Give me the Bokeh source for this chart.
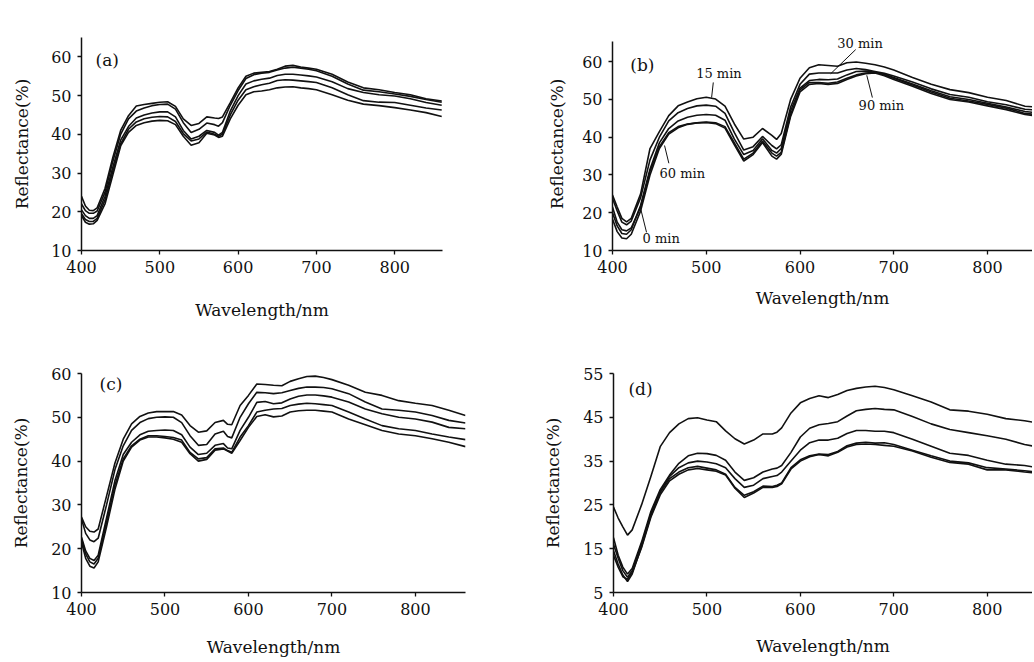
from bokeh.plotting import figure
from bokeh.layouts import column, row
from bokeh.models import Range1d, Label, FixedTicker
from bokeh.embed import file_html
from bokeh.resources import INLINE

# ---------------- data ----------------
WL = [400, 405, 410, 415, 420, 430, 440, 450, 460, 470, 480, 490, 500, 510, 520, 530,
      540, 550, 560, 570, 575, 580, 590, 600, 610, 620, 630, 640, 650, 660, 670, 680,
      690, 700, 720, 740, 760, 780, 800, 820, 840, 860]

A1 = [24.0, 21.5, 20.4, 20.3, 21.0, 26.0, 34.0, 41.0, 44.8, 47.3, 47.7, 48.0, 48.3, 48.4, 47.2, 44.0,
      42.3, 42.8, 44.5, 44.2, 44.1, 44.5, 48.2, 52.0, 55.0, 55.8, 56.0, 56.2, 56.8, 57.6, 57.8, 57.4,
      57.1, 56.8, 55.5, 53.5, 52.0, 51.5, 50.8, 50.2, 49.2, 48.6]
A2 = [22.0, 20.3, 19.6, 19.6, 20.2, 25.0, 33.0, 40.0, 44.0, 46.0, 46.8, 47.4, 47.7, 47.8, 46.5, 43.0,
      40.5, 41.3, 42.9, 42.5, 42.1, 43.0, 47.5, 51.3, 54.4, 55.4, 55.8, 56.0, 56.6, 57.1, 57.3, 57.1,
      56.8, 56.4, 55.0, 53.0, 51.4, 51.0, 50.4, 49.8, 49.0, 48.3]
A3 = [20.5, 19.0, 18.3, 18.3, 19.0, 24.0, 31.5, 38.5, 42.0, 44.2, 45.0, 45.5, 45.8, 45.8, 44.5, 41.0,
      38.8, 39.5, 41.0, 40.5, 39.8, 40.5, 46.0, 50.0, 53.0, 53.8, 54.2, 54.5, 55.2, 55.5, 55.5, 55.3,
      55.1, 54.8, 53.6, 51.8, 50.8, 50.2, 49.9, 49.2, 48.2, 47.5]
A4 = [19.5, 18.0, 17.5, 17.5, 18.3, 23.0, 30.5, 37.5, 41.3, 43.2, 44.0, 44.4, 44.6, 44.5, 43.3, 40.2,
      38.3, 38.8, 40.6, 40.0, 39.5, 40.0, 45.0, 48.8, 51.5, 52.3, 52.8, 53.2, 53.9, 54.1, 54.0, 53.8,
      53.6, 53.4, 52.0, 50.2, 48.7, 48.3, 48.2, 47.5, 46.8, 46.3]
A5 = [19.0, 17.3, 16.8, 16.9, 17.8, 22.0, 29.5, 37.0, 40.5, 42.3, 43.0, 43.4, 43.6, 43.5, 42.5, 39.5,
      37.2, 37.8, 40.3, 39.8, 39.2, 39.5, 44.0, 47.5, 50.2, 51.0, 51.2, 51.5, 52.0, 52.2, 52.3, 52.0,
      51.8, 51.5, 50.2, 48.8, 47.8, 47.4, 46.9, 46.3, 45.6, 44.6]

B1 = [24.7, 21.5, 18.5, 17.6, 18.5, 25.0, 37.0, 41.5, 45.7, 48.3, 49.3, 50.2, 50.6, 50.1, 48.2, 43.5,
      39.5, 40.0, 42.3, 40.5, 39.4, 41.0, 50.0, 55.6, 58.4, 59.2, 59.0, 58.8, 59.7, 59.9, 59.6, 59.2,
      58.6, 57.8, 55.8, 54.0, 52.6, 51.8, 50.6, 49.7, 48.2, 47.8]
B2 = [23.8, 20.5, 17.5, 16.8, 17.8, 24.0, 34.0, 40.0, 44.3, 46.5, 47.6, 48.3, 48.5, 48.2, 46.3, 41.2,
      36.6, 37.5, 40.2, 37.8, 36.9, 38.0, 48.0, 54.0, 56.7, 57.0, 57.0, 57.0, 57.8, 58.2, 57.9, 57.4,
      56.9, 56.2, 54.6, 52.8, 51.3, 50.6, 49.4, 48.6, 47.4, 47.0]
B3 = [20.0, 16.5, 14.5, 14.3, 15.5, 22.0, 31.5, 38.5, 42.3, 44.3, 45.3, 45.8, 46.0, 45.8, 44.5, 39.5,
      35.4, 36.5, 39.6, 36.5, 35.8, 37.0, 47.0, 53.0, 55.0, 55.3, 55.2, 55.4, 56.5, 57.4, 57.5, 57.2,
      56.6, 55.8, 54.1, 52.3, 50.7, 50.0, 49.0, 48.0, 46.8, 46.3]
B4 = [18.3, 15.0, 13.3, 13.1, 14.3, 20.5, 30.0, 37.0, 40.8, 42.5, 43.4, 43.8, 44.0, 43.8, 42.8, 38.5,
      34.2, 35.8, 39.0, 35.8, 35.0, 36.0, 46.0, 52.5, 54.5, 54.5, 54.3, 54.6, 55.6, 56.5, 57.0, 57.2,
      56.6, 55.6, 53.8, 52.0, 50.3, 49.6, 48.7, 47.7, 46.3, 45.8]
B5 = [21.5, 17.5, 15.5, 15.2, 16.0, 21.5, 31.0, 37.5, 41.2, 42.8, 43.5, 43.8, 43.9, 43.6, 42.4, 38.0,
      33.7, 35.4, 38.6, 35.0, 34.2, 35.5, 45.5, 52.0, 54.0, 54.2, 54.0, 54.2, 55.3, 56.2, 56.8, 57.0,
      56.3, 55.3, 53.5, 51.6, 50.0, 49.3, 48.3, 47.3, 46.0, 45.4]

C1 = [27.2, 25.0, 24.0, 23.8, 24.5, 32.0, 39.5, 45.0, 48.5, 50.2, 51.0, 51.3, 51.3, 51.3, 50.5, 48.1,
      46.6, 46.9, 48.8, 49.3, 48.4, 48.3, 52.7, 55.0, 57.6, 57.5, 57.3, 57.2, 58.2, 58.8, 59.3, 59.4,
      59.1, 58.6, 57.3, 55.7, 55.0, 53.8, 53.2, 52.7, 51.6, 50.4]
C2 = [26.8, 23.5, 22.0, 21.6, 22.4, 30.0, 38.0, 43.5, 47.0, 48.8, 49.7, 50.0, 50.1, 50.0, 48.8, 45.8,
      43.6, 43.8, 46.2, 46.8, 45.6, 45.3, 50.0, 53.1, 55.7, 55.6, 55.4, 55.6, 56.1, 56.6, 56.9, 56.9,
      56.8, 56.5, 55.4, 53.5, 51.9, 51.6, 51.2, 50.4, 49.3, 48.7]
C3 = [22.6, 19.5, 17.8, 17.3, 18.5, 27.0, 35.5, 41.5, 44.3, 46.0, 46.8, 47.0, 47.1, 47.0, 46.0, 43.2,
      41.5, 41.8, 43.6, 44.0, 43.0, 42.8, 47.0, 50.0, 53.4, 53.6, 53.1, 53.3, 54.2, 54.8, 55.1, 55.1,
      54.9, 54.6, 53.5, 51.9, 50.8, 50.0, 49.6, 48.9, 47.7, 47.4]
C4 = [22.3, 18.8, 17.0, 16.5, 17.8, 26.0, 34.5, 40.5, 43.5, 45.0, 45.8, 45.8, 45.6, 45.4, 44.8, 42.0,
      40.5, 40.8, 42.8, 43.0, 42.4, 42.0, 45.5, 48.1, 51.2, 51.6, 51.9, 52.0, 52.7, 53.0, 53.2, 53.1,
      52.9, 52.7, 51.2, 49.6, 48.1, 47.4, 47.0, 46.2, 45.5, 44.9]
C5 = [21.5, 17.8, 16.0, 15.6, 17.0, 25.0, 33.5, 40.0, 43.2, 44.8, 45.5, 45.5, 45.3, 45.0, 44.3, 41.7,
      40.0, 40.4, 42.5, 42.8, 42.3, 41.8, 44.7, 47.7, 50.2, 50.6, 50.1, 50.3, 51.2, 51.5, 51.6, 51.6,
      51.4, 51.2, 49.6, 48.3, 47.0, 46.2, 45.8, 45.1, 44.3, 43.3]

D1 = [24.5, 22.0, 20.0, 18.1, 19.3, 25.0, 31.5, 38.3, 41.5, 43.5, 44.7, 44.9, 44.4, 44.0, 41.9, 40.1,
      38.9, 39.8, 41.2, 41.2, 41.6, 42.6, 46.0, 48.3, 49.3, 49.9, 49.5, 50.2, 51.1, 51.6, 51.9, 52.1,
      51.8, 51.3, 49.9, 48.5, 46.7, 46.4, 45.7, 44.7, 44.2, 43.5]
D2 = [17.5, 13.5, 10.8, 9.2, 10.5, 16.5, 23.5, 28.5, 31.8, 34.5, 36.2, 36.8, 36.7, 36.3, 35.2, 32.5,
      30.6, 31.2, 32.5, 33.2, 33.4, 34.0, 37.0, 40.5, 42.5, 43.3, 43.6, 44.0, 45.3, 46.5, 46.8, 47.0,
      46.8, 46.7, 45.2, 43.5, 42.2, 41.5, 40.8, 40.0, 38.8, 38.0]
D3 = [16.0, 12.8, 10.0, 8.5, 10.0, 16.0, 23.0, 28.0, 31.5, 33.5, 34.6, 35.0, 34.8, 34.4, 33.5, 31.0,
      29.0, 29.5, 31.0, 31.5, 31.7, 32.5, 35.0, 37.5, 39.2, 39.8, 39.8, 40.2, 41.3, 42.0, 42.0, 41.8,
      41.8, 41.5, 40.0, 38.4, 36.8, 36.3, 35.2, 34.3, 34.0, 33.3]
D4 = [14.5, 11.5, 9.0, 7.5, 9.2, 15.5, 22.5, 27.8, 31.0, 32.5, 33.5, 33.8, 33.4, 33.0, 32.0, 29.0,
      27.2, 28.0, 29.3, 29.2, 29.5, 30.0, 33.5, 35.3, 36.2, 36.6, 36.5, 37.2, 38.5, 39.1, 39.3, 39.1,
      39.2, 38.8, 37.5, 36.2, 35.0, 34.6, 33.5, 33.2, 32.8, 32.3]
D5 = [13.5, 10.8, 8.6, 8.0, 9.6, 15.2, 22.2, 27.3, 30.5, 32.0, 33.0, 33.3, 33.0, 32.7, 31.8, 28.8,
      26.7, 27.7, 29.0, 29.0, 29.2, 29.8, 33.2, 35.0, 36.0, 36.5, 36.2, 37.0, 38.2, 38.8, 38.9, 38.8,
      38.6, 38.4, 37.3, 35.9, 34.7, 34.3, 33.0, 33.0, 32.5, 32.2]

X_TICKS = [400, 500, 600, 700, 800]
Y_TICKS_ABC = [10, 20, 30, 40, 50, 60]
Y_TICKS_D = [5, 15, 25, 35, 45, 55]

PANEL_TAGS = ["(a)", "(b)", "(c)", "(d)"]
# annotations of panel (b): text, text position, leader line start/end
B_NOTES = ["15 min", "30 min", "90 min", "60 min", "0 min"]
B_NOTE_POS = [(513.5, 56.8), (664.0, 64.9), (686.8, 48.3), (474.4, 30.5), (452.0, 13.2)]
B_LEADERS = [((507.5, 54.5), (505.7, 50.5)),
             ((659.4, 63.2), (632.7, 56.8)),
             ((677.2, 50.5), (671.2, 56.4)),
             ((460.1, 33.1), (455.5, 37.8)),
             ((436.3, 14.8), (429.9, 21.2))]

SERIF = "DejaVu Serif"
INK = "#111111"


def panel(width, height, xr, yr, ybounds, yticks, mbl, mbr, mbt, mbb,
          x_label_standoff, y_label_standoff, curves, tag, tag_pos):
    p = figure(width=width, height=height, output_backend="svg", toolbar_location=None,
               x_range=Range1d(*xr), y_range=Range1d(*yr),
               min_border_left=mbl, min_border_right=mbr,
               min_border_top=mbt, min_border_bottom=mbb)
    p.outline_line_color = None
    p.background_fill_color = "white"
    p.border_fill_color = "white"
    p.grid.visible = False
    for ax in (p.xaxis[0], p.yaxis[0]):
        ax.axis_line_color = INK
        ax.axis_line_width = 1.5
        ax.major_tick_line_color = INK
        ax.major_tick_line_width = 1.3
        ax.major_tick_in = 0
        ax.major_tick_out = 4
        ax.minor_tick_line_color = None
        ax.major_label_text_font = SERIF
        ax.major_label_text_font_size = "16px"
        ax.major_label_text_color = INK
        ax.major_label_standoff = 6
        ax.axis_label_text_font = SERIF
        ax.axis_label_text_font_size = "17px"
        ax.axis_label_text_font_style = "normal"
        ax.axis_label_text_color = INK
    p.xaxis.ticker = FixedTicker(ticks=X_TICKS)
    p.yaxis.ticker = FixedTicker(ticks=yticks)
    p.xaxis.axis_label = "Wavelength/nm"
    p.yaxis.axis_label = "Reflectance(%)"
    p.xaxis.axis_label_standoff = x_label_standoff
    p.yaxis.axis_label_standoff = y_label_standoff
    p.yaxis.bounds = ybounds
    for c in curves:
        p.line(WL, c, line_color=INK, line_width=1.6)
    p.add_layout(Label(x=tag_pos[0], y=tag_pos[1], text=tag, text_font=SERIF,
                       text_font_size="17px", text_color=INK,
                       text_align="left", text_baseline="middle"))
    return p


pa = panel(540, 330, (400, 861), (10, 65), (10, 65), Y_TICKS_ABC, 81, 98, 37, 80,
           24, 16, [A1, A2, A3, A4, A5], PANEL_TAGS[0], (418, 59.2))
pb = panel(492, 330, (400, 848), (10, 66.4), (10, 65.4), Y_TICKS_ABC, 72, 0, 13, 80,
           12, 12, [B1, B2, B3, B4, B5], PANEL_TAGS[1], (419, 59.2))
for txt, pos in zip(B_NOTES, B_NOTE_POS):
    pb.add_layout(Label(x=pos[0], y=pos[1], text=txt, text_font=SERIF,
                        text_font_size="13px", text_color=INK,
                        text_align="center", text_baseline="middle"))
pb.segment(x0=[l[0][0] for l in B_LEADERS], y0=[l[0][1] for l in B_LEADERS],
           x1=[l[1][0] for l in B_LEADERS], y1=[l[1][1] for l in B_LEADERS],
           line_color=INK, line_width=1.0)

pc = panel(540, 330, (400, 860), (10, 60), (10, 60), Y_TICKS_ABC, 81, 75, 43, 68,
           19, 17, [C1, C2, C3, C4, C5], PANEL_TAGS[2], (421.6, 57.5))
pd = panel(492, 330, (400, 848.5), (5, 55), (5, 55), Y_TICKS_D, 72, 0, 22, 68,
           18, 17, [D1, D2, D3, D4, D5], PANEL_TAGS[3], (416, 51.4))

layout = column(row(pa, pb), row(pc, pd))
open("out.html", "w").write(file_html(layout, INLINE))
